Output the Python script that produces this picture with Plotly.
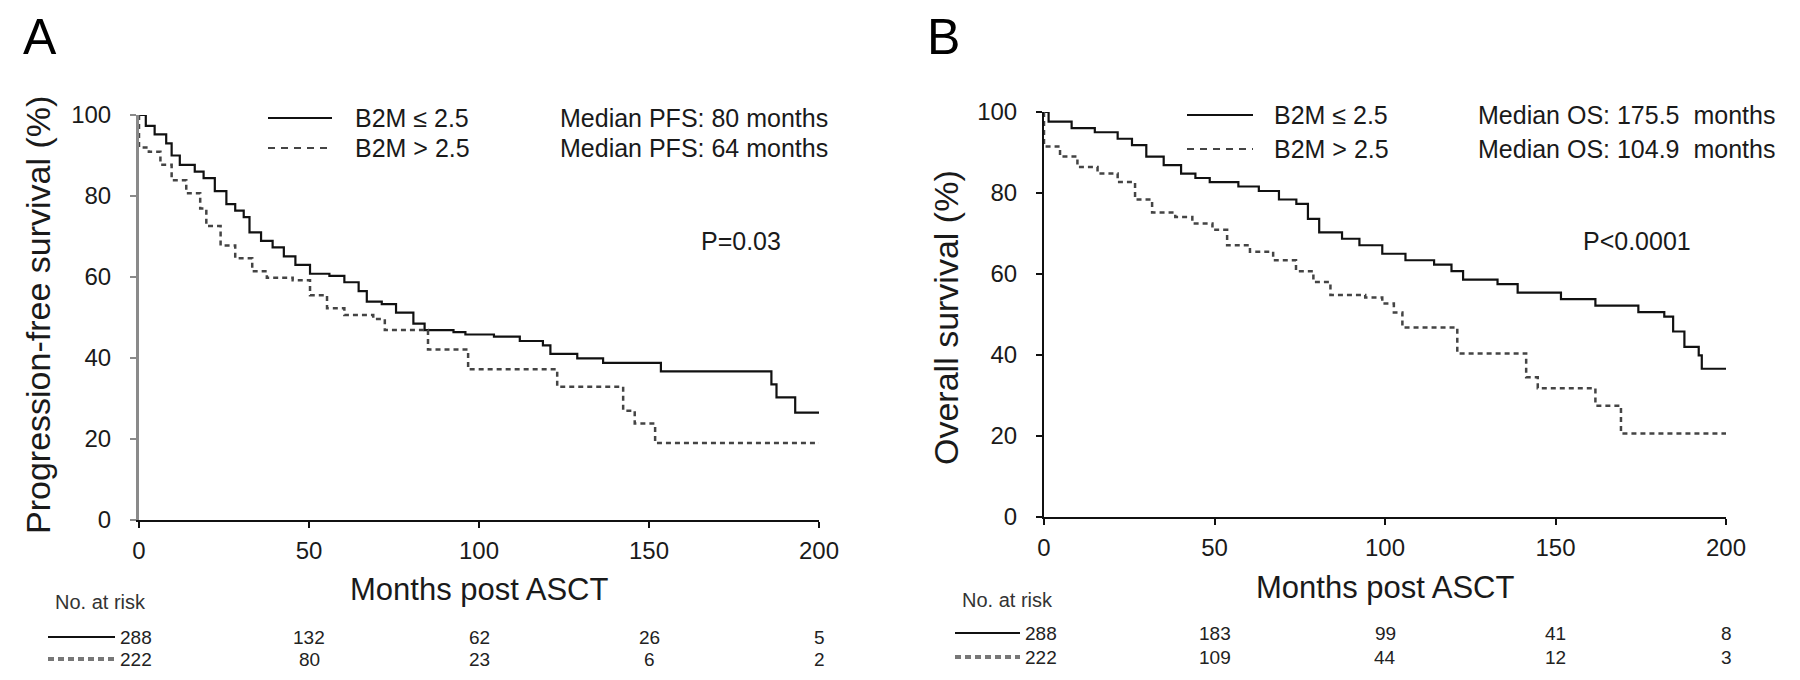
import plotly.graph_objects as go

# ---------------- data ----------------
# Panel A: progression-free survival (%)
tA_low = [0, 2, 4.6, 8, 9.6, 12, 16.4, 19, 22.3, 25.7, 28.3, 30.8, 32.5, 35.9, 39.3, 42.6, 46, 50.3,
          56, 60.4, 64.6, 67, 71.4, 75.6, 80.7, 84, 92.5, 96, 104.4, 112, 118.8, 121, 128.9, 136.5,
          153.5, 186, 187.5, 193, 200]
sA_low = [100, 97.3, 95.2, 93, 90, 87.7, 86, 84.4, 81.2, 78, 76.4, 74.8, 71, 68.9, 67.3, 65.1, 63, 60.8,
          60.3, 58.7, 56.5, 53.9, 53.3, 51.2, 48.5, 46.9, 46.4, 45.8, 45.3, 44.2, 43.1, 41, 39.9, 38.8,
          36.7, 33.5, 30.3, 26.5, 26.5]
tA_high = [0, 0, 2.9, 6.3, 9.6, 13.9, 18, 19.8, 24, 28.3, 33.3, 37.6, 45.2, 50.3, 55.3, 60.4, 68.9,
           72.3, 85, 96.8, 123, 142.4, 145.8, 151.8, 200]
sA_high = [100, 92, 90.9, 87.7, 83.9, 80.7, 76.9, 72.6, 67.8, 64.6, 61.4, 59.8, 59.2, 55.5, 52.3, 50.6, 49.6,
           46.9, 42.1, 37.2, 32.9, 27, 23.8, 19, 19]

# Panel B: overall survival (%)
tB_low = [0, 1.35, 8.1, 14.9, 21.6, 25.8, 30, 35.1, 40.2, 44.4, 48.6, 57, 63, 68.9, 74, 77.4, 80.7, 87.4,
          92.5, 99.2, 106, 114.4, 119.5, 122.9, 133, 138.9, 151.6, 161.7, 174.3, 181.9, 184.5, 187.8,
          192, 192.9, 200]
sB_low = [100, 97.6, 96, 95, 93.4, 91.8, 89, 86.9, 84.8, 83.7, 82.7, 81.6, 80.5, 78.4, 77.3, 73.6, 70.3, 68.7,
          67.1, 65, 63.4, 62.3, 60.7, 58.6, 57.5, 55.4, 53.8, 52.2, 50.6, 49.5, 45.8, 42,
          39.9, 36.6, 36.6]
tB_high = [0, 0, 4.7, 9.8, 15.7, 21.6, 26.7, 31.7, 38.5, 43.5, 49.4, 53.7, 60.4, 67.2, 73.9, 79, 84, 94.2,
           99.2, 102.6, 105.1, 121.2, 141.4, 144.8, 161.7, 169.2, 200]
sB_high = [100, 91.5, 89, 86.4, 84.8, 82.7, 78.4, 75.2, 74.1, 72.5, 70.9, 67.1, 65.5, 63.4, 60.7, 58, 54.8, 54.2,
           52.7, 50.5, 46.8, 40.4, 34.5, 31.8, 27.5, 20.6, 20.6]

# Numbers at risk
risk_times = [0, 50, 100, 150, 200]
riskA_low = [288, 132, 62, 26, 5]
riskA_high = [222, 80, 23, 6, 2]
riskB_low = [288, 183, 99, 41, 8]
riskB_high = [222, 109, 44, 12, 3]

x_ticks = [0, 50, 100, 150, 200]
y_ticks = [0, 20, 40, 60, 80, 100]

group_labels = ["B2M \u2264 2.5", "B2M > 2.5"]
medA = ["Median PFS: 80 months", "Median PFS: 64 months"]
medB = ["Median OS: 175.5\u00a0 months", "Median OS: 104.9\u00a0 months"]
p_texts = ["P=0.03", "P<0.0001"]
y_titles = ["Progression-free survival (%)", "Overall survival (%)"]
x_title = "Months post ASCT"

# ---------------- layout helpers ----------------
# The page body has an 8px margin, so the figure is drawn 8px in from the
# window's top-left corner; positions below are window pixels.
OFF = 8
W, H = 1800 - 2 * OFF, 680 - 2 * OFF
FONT = "Liberation Sans, Arial, sans-serif"
TXT = "#1a1a1a"


def px(x):
    return (x - OFF) / W


def py(y):
    return 1 - (y - OFF) / H


fig = go.Figure()

solid = dict(color="#111111", width=2.2)
dashed = dict(color="#444444", width=2.5, dash="5px,4px")

fig.add_trace(go.Scatter(x=tA_low, y=sA_low, mode="lines", line=dict(shape="hv", **solid),
                         xaxis="x", yaxis="y", showlegend=False))
fig.add_trace(go.Scatter(x=tA_high, y=sA_high, mode="lines", line=dict(shape="hv", **dashed),
                         xaxis="x", yaxis="y", showlegend=False))
fig.add_trace(go.Scatter(x=tB_low, y=sB_low, mode="lines", line=dict(shape="hv", **solid),
                         xaxis="x2", yaxis="y2", showlegend=False))
fig.add_trace(go.Scatter(x=tB_high, y=sB_high, mode="lines", line=dict(shape="hv", **dashed),
                         xaxis="x2", yaxis="y2", showlegend=False))

tickfont = dict(family=FONT, size=24, color=TXT)


def xaxis(domain, anchor):
    return dict(domain=domain, anchor=anchor, range=[0, 200], tickvals=x_ticks,
                showline=True, linecolor="#111111", linewidth=2, ticks="outside", ticklen=6,
                tickwidth=2, tickcolor="#111111", showgrid=False, zeroline=False,
                tickfont=tickfont, ticklabelstandoff=2, fixedrange=True, automargin=False)


def yaxis(domain, anchor, lc, lw):
    return dict(domain=domain, anchor=anchor, range=[0, 100], tickvals=y_ticks,
                showline=True, linecolor=lc, linewidth=lw, ticks="outside", ticklen=6,
                tickwidth=2, tickcolor=lc, showgrid=False, zeroline=False,
                tickfont=tickfont, ticklabelstandoff=14, fixedrange=True, automargin=False)


ann = []
shapes = []

panels = [
    dict(x0=139, x1=819, y0=520, y1=115, xa="x", ya="y", letter="A", letter_x=40,
         ycol="#8a8a8a", ylw=3,
         leg_l0=268, leg_l1=332, leg_tx=353, leg_rows=[118, 148], med_right=830, med=medA,
         p_xy=(741, 241), p=p_texts[0], ytitle_xy=(38, 315), ytitle=y_titles[0], xtitle_y=589,
         risk_label_xy=(100, 602), risk_rows=[637, 659], risk_line=(48, 115),
         risk=[riskA_low, riskA_high]),
    dict(x0=1044, x1=1726, y0=517, y1=112, xa="x2", ya="y2", letter="B", letter_x=943,
         ycol="#111111", ylw=2,
         leg_l0=1187, leg_l1=1253, leg_tx=1272, leg_rows=[115, 149], med_right=1777, med=medB,
         p_xy=(1637, 241), p=p_texts[1], ytitle_xy=(946, 318), ytitle=y_titles[1], xtitle_y=587,
         risk_label_xy=(1007, 600), risk_rows=[633, 657], risk_line=(955, 1020),
         risk=[riskB_low, riskB_high]),
]

layout_axes = {}
for i, p in enumerate(panels):
    xd = [px(p["x0"]), px(p["x1"])]
    yd = [py(p["y0"]), py(p["y1"])]
    xkey = "xaxis" if i == 0 else "xaxis2"
    ykey = "yaxis" if i == 0 else "yaxis2"
    layout_axes[xkey] = xaxis(xd, p["ya"])
    layout_axes[ykey] = yaxis(yd, p["xa"], p["ycol"], p["ylw"])

    # panel letter
    ann.append(dict(text=p["letter"], x=px(p["letter_x"]), y=py(37), xref="paper", yref="paper",
                    showarrow=False, xanchor="center", yanchor="middle",
                    font=dict(family=FONT, size=50, color="#000000")))
    # axis titles
    ann.append(dict(text=p["ytitle"], x=px(p["ytitle_xy"][0]), y=py(p["ytitle_xy"][1]),
                    xref="paper", yref="paper", textangle=-90, showarrow=False,
                    xanchor="center", yanchor="middle", font=dict(family=FONT, size=34, color=TXT)))
    ann.append(dict(text=x_title, x=100, y=py(p["xtitle_y"]), xref=p["xa"], yref="paper",
                    showarrow=False, xanchor="center", yanchor="middle",
                    font=dict(family=FONT, size=31, color=TXT)))
    # legend samples & text
    styles = [dict(color="#111111", width=2), dict(color="#444444", width=2, dash="7px,6px")]
    for r, yy in enumerate(p["leg_rows"]):
        shapes.append(dict(type="line", xref="paper", yref="paper", x0=px(p["leg_l0"]), x1=px(p["leg_l1"]),
                           y0=py(yy), y1=py(yy), line=styles[r]))
        ann.append(dict(text=group_labels[r], x=px(p["leg_tx"]), y=py(yy), xref="paper", yref="paper",
                        showarrow=False, xanchor="left", yanchor="middle",
                        font=dict(family=FONT, size=25, color=TXT)))
        ann.append(dict(text=p["med"][r], x=px(p["med_right"]), y=py(yy), xref="paper", yref="paper",
                        showarrow=False, xanchor="right", yanchor="middle",
                        font=dict(family=FONT, size=25, color=TXT)))
    # p-value
    ann.append(dict(text=p["p"], x=px(p["p_xy"][0]), y=py(p["p_xy"][1]), xref="paper", yref="paper",
                    showarrow=False, xanchor="center", yanchor="middle",
                    font=dict(family=FONT, size=25, color=TXT)))
    # numbers at risk
    ann.append(dict(text="No. at risk", x=px(p["risk_label_xy"][0]), y=py(p["risk_label_xy"][1]),
                    xref="paper", yref="paper", showarrow=False, xanchor="center", yanchor="middle",
                    font=dict(family=FONT, size=20, color="#333333")))
    rstyles = [dict(color="#111111", width=2), dict(color="#777777", width=4, dash="6px,4px")]
    for r, yy in enumerate(p["risk_rows"]):
        shapes.append(dict(type="line", xref="paper", yref="paper", x0=px(p["risk_line"][0]),
                           x1=px(p["risk_line"][1]), y0=py(yy), y1=py(yy), line=rstyles[r]))
        for t, n in zip(risk_times, p["risk"][r]):
            ann.append(dict(text=str(n), x=t, y=py(yy), xref=p["xa"], yref="paper", showarrow=False,
                            xanchor="center", yanchor="middle", xshift=-3 if t == 0 else 0,
                            font=dict(family=FONT, size=19, color="#222222")))

fig.update_layout(
    width=W, height=H, autosize=False,
    margin=dict(l=0, r=0, t=0, b=0, autoexpand=False),
    paper_bgcolor="white", plot_bgcolor="white",
    showlegend=False,
    annotations=ann, shapes=shapes,
    **layout_axes,
)

fig.write_html("out.html")
